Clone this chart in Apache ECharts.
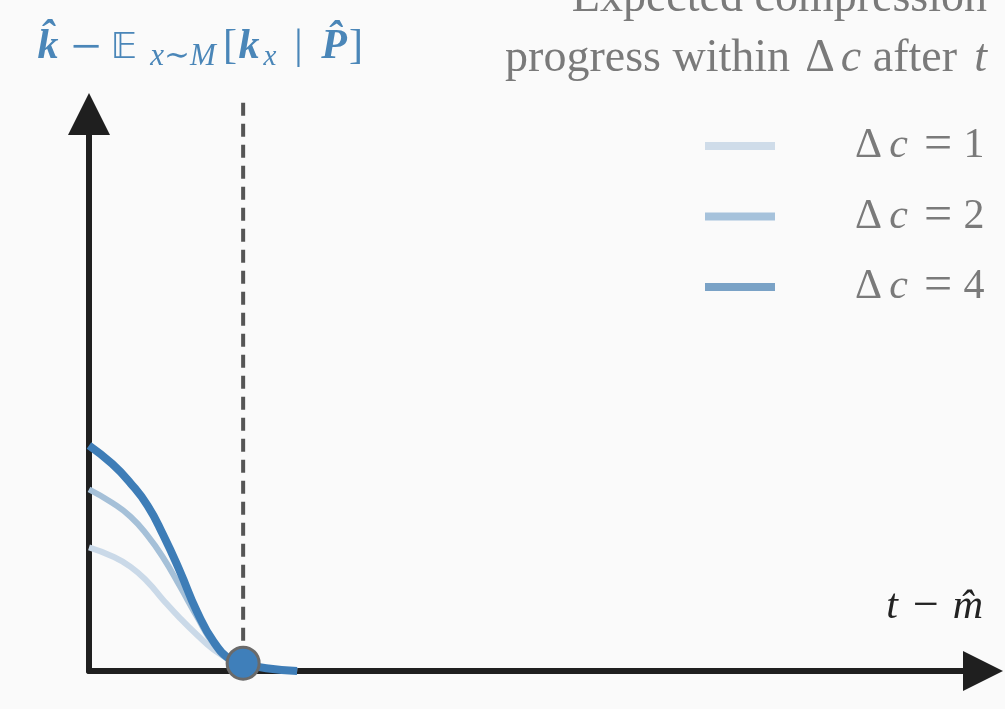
<!DOCTYPE html>
<html><head><meta charset="utf-8">
<script src="https://cdn.jsdelivr.net/npm/echarts@6/dist/echarts.min.js"></script>
<style>html,body{margin:0;padding:0;background:#fafafa}#c{width:1005px;height:709px}</style>
</head><body><div id="c"></div>
<script>
// ---- data ----
const xs   = [0, 0.15, 0.27, 0.38, 0.48, 0.59, 0.70, 0.81, 0.92, 1.0, 1.15, 1.35];
const dc1  = [0.222, 0.206, 0.187, 0.160, 0.128, 0.095, 0.065, 0.038, 0.020, 0.013, 0.005, 0.0];
const dc2  = [0.326, 0.302, 0.277, 0.243, 0.204, 0.152, 0.098, 0.048, 0.018, 0.013, 0.005, 0.0];
const dc4  = [0.405, 0.372, 0.337, 0.297, 0.245, 0.179, 0.107, 0.052, 0.020, 0.013, 0.005, 0.0];
const seriesNames = ['Δc = 1', 'Δc = 2', 'Δc = 4'];
const markerPoint = [1, 0.014];
const guideX = 1;
const guideYs = [1.02, 0.04];

const SERIF = "'Liberation Serif', 'DejaVu Serif', 'DejaVu Sans', serif";
const pair = (ys) => xs.map((x, i) => [x, ys[i]]);

// text helper: places text so that its baseline sits at `base`
function txt(text, x, base, size, opts) {
  opts = opts || {};
  const style = (opts.italic ? 'italic ' : '') + (opts.bold ? 'bold ' : '');
  return {
    type: 'text', x: x, y: base - 0.34 * size, silent: true,
    style: {
      text: text, font: style + size + 'px ' + (opts.family || SERIF),
      fill: opts.color || '#7a7a7a', align: opts.align || 'center', verticalAlign: 'middle'
    }
  };
}
const BLUE = '#4a86b8';
const GREY = '#7a7a7a';

const chart = echarts.init(document.getElementById('c'), null, {renderer: 'canvas'});
const lineColors = ['#cad9e8', '#a5c0d8', '#3e7db7'];
const legendColors = ['#cfdce9', '#a6c2db', '#7aa2c6'];
const widths = [6, 6, 8];

chart.setOption({
  backgroundColor: '#fafafa',
  animation: false,
  grid: {left: 89, right: 22, top: 114, bottom: 38},
  xAxis: {
    type: 'value', min: 0, max: 5.8,
    axisLine: {show: true, onZero: false, symbol: ['none', 'triangle'], symbolSize: [40, 40],
      lineStyle: {color: '#1f1f1f', width: 6}},
    axisTick: {show: false}, axisLabel: {show: false}, splitLine: {show: false},
    name: '{t|t}{m|−}{h|m̂}', nameLocation: 'end', nameGap: 5,
    nameTextStyle: {
      fontFamily: SERIF, fontSize: 40, color: '#222', align: 'right',
      verticalAlign: 'bottom', lineHeight: 44, padding: [0, 0, 42, 0],
      rich: {
        t: {fontFamily: SERIF, fontSize: 42, color: '#222', fontStyle: 'italic', width: 24, align: 'center', lineHeight: 44},
        m: {fontFamily: SERIF, fontSize: 46, color: '#222', width: 44, align: 'center', lineHeight: 44},
        h: {fontFamily: SERIF, fontSize: 42, color: '#222', fontStyle: 'italic', width: 40, align: 'center', lineHeight: 44}
      }
    }
  },
  yAxis: {
    type: 'value', min: 0, max: 1,
    axisLine: {show: true, onZero: false, symbol: ['none', 'triangle'], symbolSize: [42, 42],
      lineStyle: {color: '#1f1f1f', width: 6}},
    axisTick: {show: false}, axisLabel: {show: false}, splitLine: {show: false}
  },
  legend: {
    orient: 'vertical', right: 15, top: 116,
    itemWidth: 70, itemHeight: 8, itemGap: 20.5,
    selectedMode: false,
    data: seriesNames.map((n, i) => ({name: n, icon: 'rect', itemStyle: {color: legendColors[i]}})),
    formatter: (name) => '{d|Δ}{i|c}{e|=}{n|' + name.slice(-1) + '}',
    textStyle: {
      fontFamily: SERIF, fontSize: 40, color: GREY, lineHeight: 44, padding: [0, 0, 0, 73],
      rich: {
        d: {fontFamily: SERIF, fontSize: 42, color: GREY, width: 31, align: 'right', lineHeight: 44},
        i: {fontFamily: SERIF, fontSize: 42, color: GREY, fontStyle: 'italic', width: 29, align: 'left', lineHeight: 44},
        e: {fontFamily: SERIF, fontSize: 50, color: GREY, width: 50, align: 'center', lineHeight: 44},
        n: {fontFamily: SERIF, fontSize: 42, color: GREY, width: 22, align: 'center', lineHeight: 44}
      }
    }
  },
  graphic: [
    // title (top right)
    txt('Expected compression', 987, 15, 46, {align: 'right'}),
    txt('progress within', 790, 75, 46, {align: 'right'}),
    txt('Δ', 820, 75, 46),
    txt('c', 851, 75, 46, {italic: true}),
    txt('after', 957, 75, 46, {align: 'right'}),
    txt('t', 987, 75, 46, {italic: true, align: 'right'}),
    // y-axis label
    txt('k̂', 48, 61, 42, {italic: true, bold: true, color: BLUE}),
    txt('−', 86, 68, 54, {color: BLUE}),
    txt('𝔼', 124, 61, 36, {color: BLUE, family: "'DejaVu Sans', sans-serif"}),
    txt('x∼M', 183, 67, 31, {italic: true, color: BLUE}),
    txt('[', 230, 61, 42, {color: BLUE}),
    txt('k', 249, 61, 42, {italic: true, bold: true, color: BLUE}),
    txt('x', 270, 67, 29, {italic: true, color: BLUE}),
    txt('|', 298.5, 61, 42, {color: BLUE}),
    txt('P̂', 334, 61, 42, {italic: true, bold: true, color: BLUE}),
    txt(']', 356, 61, 42, {color: BLUE})
  ],
  series: [
    {name: seriesNames[0], type: 'line', data: pair(dc1), smooth: 0.5, showSymbol: false,
      lineStyle: {color: lineColors[0], width: widths[0]}, itemStyle: {color: legendColors[0]}, z: 2},
    {name: seriesNames[1], type: 'line', data: pair(dc2), smooth: 0.5, showSymbol: false,
      lineStyle: {color: lineColors[1], width: widths[1]}, itemStyle: {color: legendColors[1]}, z: 3},
    {name: seriesNames[2], type: 'line', data: pair(dc4), smooth: 0.5, showSymbol: false,
      lineStyle: {color: lineColors[2], width: widths[2]}, itemStyle: {color: legendColors[2]}, z: 4},
    {name: 'guide', type: 'line', data: guideYs.map(y => [guideX, y]), showSymbol: false, clip: false,
      lineStyle: {color: '#555', width: 4, type: [13, 8]}, z: 1, silent: true},
    {name: 'point', type: 'scatter', data: [markerPoint], symbolSize: 32, clip: false,
      itemStyle: {color: '#3f7fba', borderColor: '#6a6a6a', borderWidth: 3, opacity: 1}, z: 5}
  ]
});
</script>
</body></html>
